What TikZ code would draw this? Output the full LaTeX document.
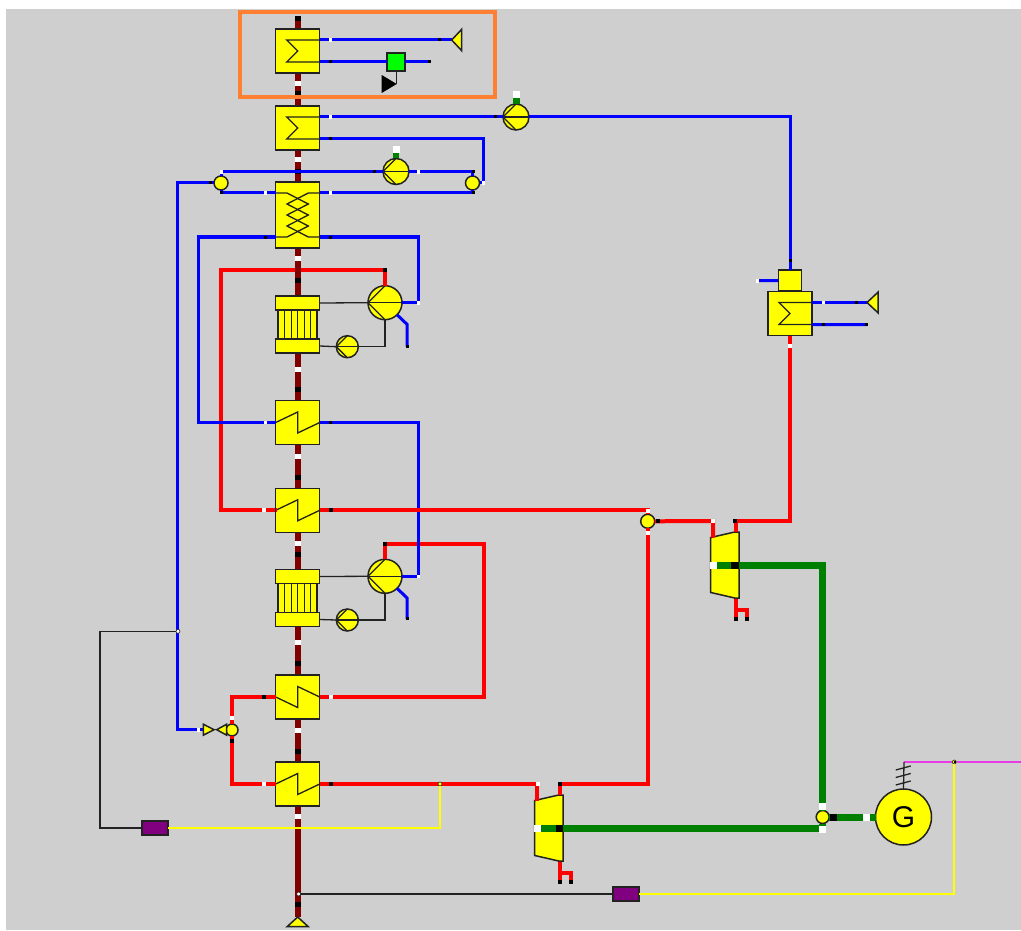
\documentclass[tikz,border=0pt]{standalone}
\usepackage{fontspec}
\setsansfont{Liberation Sans}
\definecolor{bggray}{HTML}{CFCFCF}
\definecolor{fluered}{HTML}{800000}
\definecolor{framecol}{HTML}{FF8033}
\definecolor{buscol}{HTML}{E63CE6}
\definecolor{unitcol}{RGB}{255,255,0}
\definecolor{purcol}{RGB}{128,0,128}
\definecolor{edgecol}{HTML}{222222}
\tikzset{
    unit/.style={draw=edgecol,fill=unitcol,line width=1.5pt,inner sep=0pt,outer sep=0pt},
    thinpipe/.style={edgecol,line width=1.3pt},
    bluepipe/.style={blue,line width=3pt},
    redpipe/.style={red,line width=4pt},
    greenpipe/.style={green!50!black,line width=7pt},
    fluepipe/.style={fluered,line width=6pt},
    sigpipe/.style={unitcol,line width=1.8pt},
    buspipe/.style={buscol,line width=1.8pt},
    marker/.style={circle,draw=edgecol,inner sep=0pt,minimum size=4pt,line width=.6pt}
}
\begin{document}
\begin{tikzpicture}[x=1pt,y=-1pt]
    \newcommand{\sigmahx}[3]{
        \begin{scope}[shift={(#2,#3)}]
            \node[unit,minimum size=44pt] (#1) at (0,0) {};
            \coordinate (#1-t) at (22,-11);
            \coordinate (#1-b) at (22,11);
            \draw[thinpipe] (#1-t) -- (-11,-11) -- (0,0) -- (-11,11) -- (#1-b);
        \end{scope}
    }
    \newcommand{\zighx}[4]{
        \begin{scope}[shift={(#2,#3)}]
            \node[unit,minimum size=44pt] (#1) at (0,0) {};
            \draw[thinpipe] (#1.west) -- (0,-10.5*#4) -- (0,10.5*#4) -- (#1.east);
        \end{scope}
    }
    \newcommand{\condunit}[3]{
        \begin{scope}[shift={(#2,#3)}]
            \draw[unit] (-19.5,-15) rectangle (19.5,15);
            \foreach \tx in {-13,-6.5,0,6.5,13} \draw[thinpipe] (\tx,-15) -- (\tx,15);
            \node[unit,minimum width=44pt,minimum height=14pt] (#1-top) at (0,-21.5) {};
            \node[unit,minimum width=44pt,minimum height=14pt] (#1-bot) at (0,21.5) {};
        \end{scope}
    }
    \newcommand{\pumpunit}[4]{
        \node[unit,circle,minimum size=#4*2pt] (#1) at (#2,#3) {};
        \draw[thinpipe] (#1.west) -- (#1.east);
        \draw[thinpipe] (#1.north) -- (#1.west) -- (#1.south);
    }
    \newcommand{\turbunit}[3]{
        \begin{scope}[shift={(#2,#3)}]
            \coordinate (#1-in) at (2.5,-27.5);
            \coordinate (#1-inh) at (2.5,-44);
            \coordinate (#1-ex) at (25,-33);
            \coordinate (#1-exh) at (25,-44);
            \coordinate (#1-shaft) at (2,0);
            \draw[redpipe] (25,33) -- (25,54);
            \draw[redpipe] (25,45) -- (36,45) -- (36,54);
            \draw[unit] (0,-27.5) -- (24,-33) -- (28.5,-33) -- (28.5,33) -- (24,33) -- (0,27.5) -- cycle;
        \end{scope}
    }
    \useasboundingbox (0,0) rectangle (1021,931);
    \fill[white] (0,0) rectangle (1021,931);
    \fill[bggray] (6,9) rectangle (1021,930);

    % fixed ends and bends
    \coordinate (reda) at (385,270);
    \coordinate (redc) at (220.7,270);
    \coordinate (hxeport) at (276,510.3);
    \coordinate (fluetop) at (297.7,16);
    \coordinate (fluebot) at (297.7,917);
    \coordinate (tipa) at (451.7,40);
    \coordinate (tipb) at (867,302.5);
    \coordinate (endb) at (430,62);
    \coordinate (endf) at (867,324.7);
    \coordinate (endg) at (757,280.7);
    \coordinate (vala) at (203.3,729.7);
    \coordinate (sprport) at (483,183);
    \coordinate (buscorner) at (904,762);
    \coordinate (busend) at (1021,762);
    \coordinate (sigcorner) at (100,631.3);
    \coordinate (sigtap) at (177,631.3);
    \coordinate (wrapl) at (198.5,237);
    \coordinate (wraptop) at (418,237);
    \coordinate (wrapa) at (418,302.7);
    \coordinate (wrapb) at (418,576.3);
    \coordinate (redouter) at (484,543.5);
    \coordinate (redtop) at (385,543.5);

    % red line that runs behind the gas path
    \draw[redpipe] (hxeport) -| (redc) -- (reda);

    % gas path
    \draw[fluepipe] (fluetop) -- (fluebot);
    \foreach \fy in {84,160,258,369,456,543,642,730,816}
        \fill[white] (294.7,\fy-2.5) rectangle (300.7,\fy+2.5);
    \foreach \fy in {18.5,93.5,172,280.5,389.5,477.5,554.5,663.5,751.5,904.5}
        \fill[black] (294.7,\fy-2.5) rectangle (300.7,\fy+2.5);

    % units
    \sigmahx{hxa}{297.7}{51}
    \sigmahx{hxb}{297.7}{128}
    \node[unit,minimum width=44pt,minimum height=66pt] (hxc) at (297.7,215) {};
    \coordinate (hxc-nw) at (275.7,193);
    \coordinate (hxc-ne) at (319.7,193);
    \coordinate (hxc-sw) at (275.7,237);
    \coordinate (hxc-se) at (319.7,237);
    \draw[thinpipe] (hxc-nw) -- (287,193) -- (308.3,204) -- (287,215) -- (308.3,226) -- (287,237) -- (hxc-sw);
    \draw[thinpipe] (hxc-ne) -- (308.3,193) -- (287,204) -- (308.3,215) -- (287,226) -- (308.3,237) -- (hxc-se);
    \condunit{conda}{297.7}{324.5}
    \zighx{hxd}{297.7}{422.5}{1}
    \zighx{hxe}{297.7}{510.3}{1}
    \condunit{condb}{297.7}{598}
    \zighx{hxg}{297.7}{697}{-1}
    \zighx{hxh}{297.7}{784}{1}
    \pumpunit{cira}{385}{302.7}{17}
    \pumpunit{cirb}{385}{576.3}{17}
    \pumpunit{pumpc}{347.3}{346.7}{11}
    \pumpunit{pumpd}{347.3}{620}{11}
    \pumpunit{pumpa}{516}{117}{13}
    \pumpunit{pumpb}{396}{171.5}{13}
    \node[unit,circle,minimum size=14pt] (spl) at (221,183) {};
    \node[unit,circle,minimum size=14pt] (spr) at (472.5,183) {};
    \node[unit,circle,minimum size=12pt] (juna) at (232,730) {};
    \node[unit,circle,minimum size=14pt] (junb) at (647.7,521.3) {};
    \node[unit,circle,minimum size=13pt] (junc) at (822.7,817) {};
    \node[unit,minimum width=23pt,minimum height=21pt] (topf) at (790,280.5) {};
    \sigmahx{hxf}{790}{313.5}
    \turbunit{turba}{710.7}{565}
    \turbunit{turbb}{534.7}{828}
    \node[unit,fill=green,minimum size=18pt] (ctrl) at (396,62) {};
    \node[unit,circle,minimum size=56pt,font=\fontsize{30}{30}\sffamily] (gen) at (903.5,817) {G};
    \node[unit,fill=purcol,minimum width=26pt,minimum height=14pt] (pura) at (155,828) {};
    \node[unit,fill=purcol,minimum width=26pt,minimum height=14pt] (purb) at (626,894) {};

    % water and steam
    \draw[bluepipe] (hxa-t) -- (tipa);
    \draw[bluepipe] (hxa-b) -- (ctrl.west);
    \draw[bluepipe] (ctrl.east) -- (endb);
    \draw[bluepipe] (hxb-t) -- (pumpa.west);
    \draw[bluepipe] (pumpa.east) -| (topf.north);
    \draw[bluepipe] (hxb-b) -| (sprport) -- (spr.east);
    \draw[bluepipe] (spl.north) |- (pumpb.west);
    \draw[bluepipe] (pumpb.east) -| (spr.north);
    \draw[bluepipe] (spl.south) |- (hxc-nw);
    \draw[bluepipe] (hxc-ne) -| (spr.south);
    \draw[bluepipe] (spl.west) -| (sigtap) |- (vala);
    \draw[bluepipe] (hxc-sw) -- (wrapl) |- (hxd.west);
    \draw[bluepipe] (hxc-se) -- (wraptop) -- (wrapa) -- (cira.east);
    \draw[bluepipe] (cira.-45) -- ++(10,9.6) -- ++(0,22.4);
    \draw[bluepipe] (cirb.-45) -- ++(10,9.6) -- ++(0,21);
    \draw[bluepipe] (hxf-t) -- (tipb);
    \draw[bluepipe] (hxf-b) -- (endf);
    \draw[bluepipe] (topf.west) -- (endg);

    \draw[thinpipe] (conda-top.east) -- (cira.west);
    \draw[thinpipe] (conda-bot.east) -- (pumpc.west);
    \draw[thinpipe] (pumpc.east) -| (cira.south);
    \draw[thinpipe] (condb-top.east) -- (cirb.west);
    \draw[thinpipe] (condb-bot.east) -- (pumpd.west);
    \draw[thinpipe] (pumpd.east) -| (cirb.south);

    \draw[redpipe] (reda) -- (cira.north);
    \draw[redpipe] (hxg.east) -| (redouter) -- (redtop) -- (cirb.north);
    \draw[bluepipe] (hxd.east) -| (wrapb) -- (cirb.east);
    \draw[redpipe] (hxe.west) -- (hxeport);
    \draw[redpipe] (hxe.east) -| (junb.north);
    \draw[redpipe] (hxg.west) -| (juna.north);
    \draw[redpipe] (hxh.west) -| (juna.south);
    \draw[redpipe] (hxh.east) -- (turbb-inh) -- (turbb-in);
    \draw[redpipe] (junb.south) |- (turbb-exh) -- (turbb-ex);
    \draw[redpipe] (junb.east) -- (turba-inh) -- (turba-in);
    \draw[redpipe] (turba-ex) -- (turba-exh) -| (hxf.south);

    % shaft
    \draw[greenpipe] (turba-shaft) -| (junc.north);
    \draw[greenpipe] (turbb-shaft) -| (junc.south);
    \draw[greenpipe] (junc.east) -- (gen.west);
    \draw[greenpipe,line width=7pt] (516,98) -- (516,104);
    \draw[greenpipe,line width=6pt] (396,152) -- (396,158.5);

    % signals
    \node[marker,fill=unitcol] (redtap) at (440,784) {};
    \node[marker,fill=white] (sigmark) at (178,631.3) {};
    \node[marker,fill=white] (fluetap) at (298.7,894) {};
    \node[marker,fill=unitcol] (busdot) at (954.3,762) {};
    \draw[thinpipe] (pura.west) -| (sigcorner) -- (sigmark.west);
    \draw[thinpipe] (fluetap.east) -- (purb.west);
    \draw[sigpipe] (pura.east) -| (redtap.south);
    \draw[sigpipe] (purb.east) -| (busdot.south);
    \draw[buspipe] (buscorner) -- (busdot.west);
    \draw[buspipe] (busdot.east) -- (busend);
    \draw[thinpipe] (gen.north) -- (buscorner);
    \foreach \ty in {770,777.5,785} \draw[thinpipe] (895.7,\ty) -- (910.7,\ty-4);
    \fill[black] (953.5,761) rectangle (955.5,763);

    % ends of the pipes
    \filldraw[unit] (tipa) -- ++(10,-10.7) -- ++(0,21.4) -- cycle;
    \filldraw[unit] (tipb) -- ++(11,-10.3) -- ++(0,20.6) -- cycle;
    \filldraw[unit] (fluebot) -- ++(10.6,9.7) -- ++(-21.2,0) -- cycle;
    \filldraw[unit] (vala) -- ++(0,-5.5) -- ++(10.7,5.5) -- ++(-10.7,5.5) -- cycle;
    \filldraw[unit] (226.7,724.2) -- ++(0,11) -- ++(-10,-5.5) -- cycle;
    \draw[thinpipe] (214,729.7) -- (216.7,729.7);
    \draw[thinpipe] (ctrl.south) ++(.7,0) -- (396.7,84);
    \fill[black] (381.7,75) -- (396.7,84) -- (381.7,93) -- cycle;

    % small port marks
    \foreach \mx/\my in {330/40,330/117,265/193,330/193,418/172,265/422.5,418/302.7,418/576.3,198/729.7,823/302.5,757/280.7,483/183,221/172}
        \fill[white] (\mx-1.5,\my-1.8) rectangle (\mx+1.5,\my+1.8);
    \foreach \mx/\my in {439/40,330/62,429/62,495/117,330/139,374/171.5,221/193,473/172,473/193,265/237,330/237,210/183,330/422.5,407/346,407/618.5,790/260,856/302.5,823/324.7,866/324.7}
        \fill[black] (\mx-1.5,\my-1.5) rectangle (\mx+1.5,\my+1.5);
    \foreach \mx/\my in {264/510.3,264/784,232/718.3,331/697,648/510.5,648/532.5,713/521.3,790/346.3,537.5/784}
        \fill[white] (\mx-2,\my-2) rectangle (\mx+2,\my+2);
    \foreach \mx/\my in {385/270,331/510.3,264/697,232/740.7,331/784,385/543.5,658/521.3,735/521.3,735.7/619,747/619,560/784,559.7/882,570.7/882}
        \fill[black] (\mx-2,\my-2) rectangle (\mx+2,\my+2);
    \foreach \mx/\my in {713.5/565,822.7/806,822.7/829,866/817,537.5/828,516/95,396/149.5}
        \fill[white] (\mx-3.5,\my-3.5) rectangle (\mx+3.5,\my+3.5);
    \foreach \mx/\my in {735/565,833.5/817,559.7/828}
        \fill[black] (\mx-3.7,\my-3.5) rectangle (\mx+3.7,\my+3.5);

    % highlighted part
    \node[draw=framecol,line width=3.6pt,inner sep=0pt,outer sep=0pt,minimum width=255pt,minimum height=85pt] (frame) at (367.5,54.5) {};
\end{tikzpicture}
\end{document}
